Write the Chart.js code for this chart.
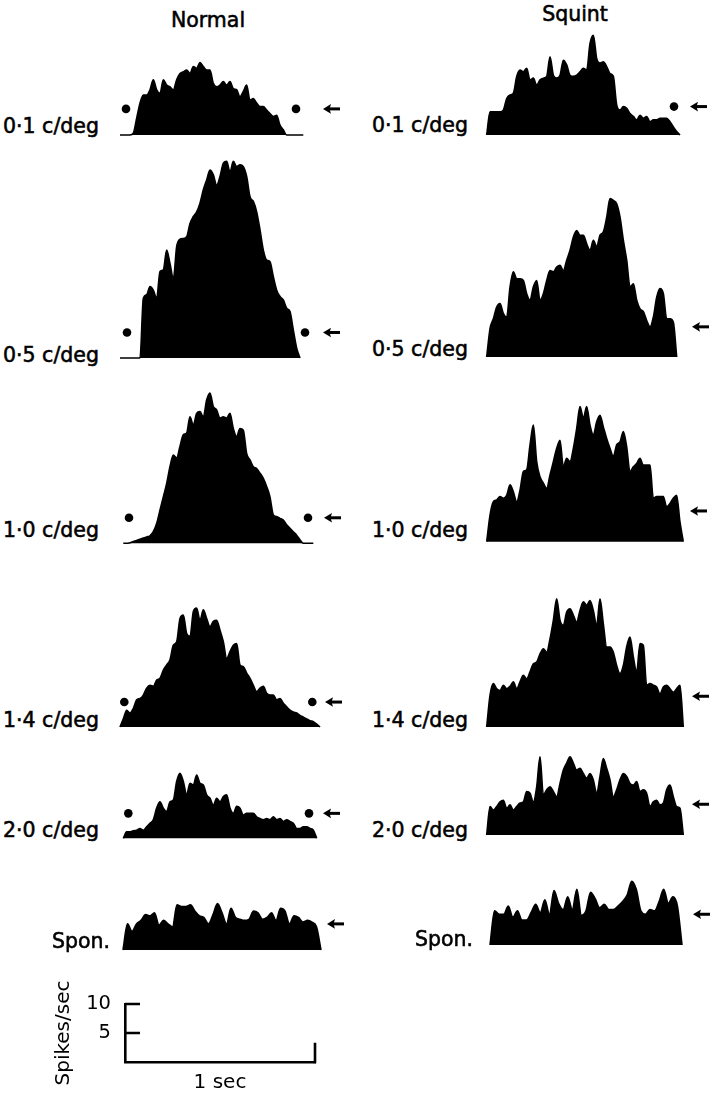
<!DOCTYPE html>
<html><head><meta charset="utf-8">
<script src="https://cdn.jsdelivr.net/npm/chart.js@4.4.1/dist/chart.umd.min.js"></script>
<style>
html,body{margin:0;padding:0;background:#fff;}
#page{position:relative;width:711px;height:1093px;overflow:hidden;font-family:"DejaVu Sans",sans-serif;color:#000;}
.t{position:absolute;white-space:nowrap;font-size:20.5px;line-height:20px;-webkit-text-stroke:0.55px #000;}
canvas{position:absolute;}
</style></head>
<body><div id="page"></div>
<script>
// ---------- data (spikes/sec, evenly spaced over the 1 s sweep) ----------
const columns = ['Normal', 'Squint'];
const conditions = ['0·1 c/deg', '0·5 c/deg', '1·0 c/deg', '1·4 c/deg', '2·0 c/deg', 'Spon.'];

const normal01 = [0,0,0,0,0.3,2.9,5.5,6.9,6.9,7.8,9.5,7.8,7.2,9.5,8.6,8.3,7.8,9.5,10.6,10.9,11.2,10.6,11.8,11.5,12.5,11.8,11.2,11.2,8.9,8.3,8.6,9.2,8.6,9.2,8.0,7.8,6.6,7.5,8.6,6.0,6.3,5.5,4.9,4.9,4.3,3.7,3.2,3.4,1.7,0.9,0,0,0,0,0,0];
const normal05 = [0,0,0,0,0,0,0,10.3,10.9,12.3,11.7,10.3,14.9,15.2,18.6,16.3,13.7,19.2,20.5,20.6,20.9,23.2,24.4,25.2,26.7,29.0,30.7,32.4,31.6,29.8,31.3,33.6,33.9,32.1,33.9,33.0,33.3,33.0,31.3,27.8,27.0,25.2,22.1,18.6,16.9,16.6,14.0,11.7,10.6,10.0,8.6,8.0,4.8,1.7,0];
const normal10 = [0,0,0.1,0.3,0.5,0.7,0.9,1.1,1.3,2.0,3.4,5.7,8.0,10.3,13.2,15.2,14.7,16.7,18.7,19.0,21.8,20.4,22.4,22.7,21.8,24.7,25.9,23.6,23.0,21.6,21.8,21.6,22.4,19.8,18.4,19.8,19.5,15.5,14.4,13.2,12.9,12.1,11.2,9.8,8.0,4.9,4.6,4.3,4.0,3.2,2.6,2.0,1.4,0.6,0,0,0,0];
const normal14 = [0,1.4,2.9,2.4,3.2,4.7,4.9,5.5,6.7,7.2,7.0,8.1,8.4,9.8,10.7,11.6,14.1,14.7,18.7,19.3,16.1,15.6,19.9,20.5,18.4,20.2,18.7,17.3,18.2,18.4,16.7,14.7,11.8,13.0,14.1,14.4,10.7,10.4,9.3,8.4,7.2,6.1,6.7,7.0,5.8,5.5,5.5,4.7,4.9,4.1,3.5,2.9,2.6,2.4,2.0,1.7,1.4,1.1,0.9,0.5,0];
const normal20 = [0,1.1,1.1,1.3,1.4,1.7,1.4,2.0,2.6,3.2,5.2,6.3,5.2,4.6,6.3,6.6,9.8,11.2,9.8,7.5,9.5,9.2,10.9,9.5,9.2,7.5,6.9,5.7,6.9,6.3,7.2,7.5,5.2,4.3,5.5,5.2,4.0,4.3,4.3,4.3,3.7,3.4,3.2,3.4,3.2,3.7,3.2,3.4,2.9,3.2,2.9,2.6,1.7,1.7,2.0,2.0,1.7,1.4,0];
const normalSpon = [0,4.5,3.2,4.5,5.1,6.1,5.9,6.4,4.3,5.1,4.5,4.0,7.8,7.5,7.5,7.8,6.7,5.9,5.6,4.5,6.1,8.0,6.4,4.5,7.2,5.6,5.3,5.1,5.3,6.7,6.4,5.3,5.6,6.4,5.1,7.2,6.7,4.5,5.9,5.6,4.8,5.1,4.8,4.0,0];

const squint01 = [0,4.0,4.0,4.0,4.0,4.3,6.3,6.9,7.2,10.1,11.2,10.9,11.5,9.5,9.8,8.6,9.5,9.8,10.1,13.5,10.3,9.8,10.3,12.9,12.1,10.3,10.1,10.3,10.9,11.5,11.2,15.8,17.2,13.2,12.4,12.6,11.8,10.6,10.1,5.2,4.3,4.9,4.6,3.7,3.2,2.6,3.4,2.9,3.2,2.3,2.6,2.6,2.9,2.9,2.9,2.3,1.4,0.6,0];
const squint05 = [0,4.9,6.6,8.6,9.2,7.5,6.9,12.1,14.7,13.5,13.5,13.2,10.9,9.8,12.1,13.2,9.8,10.9,13.2,14.9,14.7,15.5,15.8,14.9,16.7,18.4,20.7,21.8,21.0,21.0,19.5,18.4,20.1,19.0,21.0,21.6,24.1,27.3,27.0,26.4,24.1,20.1,16.7,12.1,12.6,9.8,8.3,7.8,6.3,5.2,6.9,10.3,11.8,10.9,6.6,6.6,6.0,0];
const squint10 = [0,4.6,6.9,7.2,7.8,7.5,8.0,9.8,8.6,6.9,8.9,12.1,12.4,16.7,20.1,13.8,11.2,10.1,9.2,11.5,13.8,16.1,17.5,12.9,14.4,13.8,16.1,19.5,23.3,21.3,23.3,20.1,18.4,20.7,21.8,19.8,17.8,16.1,14.7,16.7,17.2,19.0,16.4,12.1,12.9,13.5,14.4,13.2,13.2,13.2,7.5,7.8,7.8,7.8,6.0,6.6,7.5,8.0,3.4,0];
const squint14 = [0,5.5,7.5,6.6,6.3,7.2,6.6,7.0,7.8,6.6,7.8,8.9,8.3,9.5,10.9,11.2,12.6,13.5,12.9,15.2,18.4,22.1,18.4,17.5,19.8,20.4,19.3,18.1,20.1,21.6,21.0,21.8,20.1,17.5,22.1,17.8,13.8,13.8,12.9,10.6,9.2,10.6,13.8,15.5,12.1,9.5,14.4,14.1,7.2,7.5,7.2,6.9,5.7,6.9,7.2,6.6,6.0,6.6,7.2,0];
const squint20 = [0,4.9,4.3,4.9,5.7,6.0,4.6,5.2,4.3,4.9,5.5,5.7,7.5,7.2,5.7,8.3,13.5,6.9,7.8,8.3,7.5,6.6,8.9,11.2,12.4,13.5,12.4,11.2,11.5,10.6,9.8,10.6,9.5,7.2,10.1,13.2,11.5,9.5,6.6,7.8,9.5,10.6,10.1,8.9,8.6,9.2,7.5,7.8,7.2,4.9,5.7,6.0,5.2,5.5,7.8,8.6,6.6,4.9,4.6,0];
const squintSpon = [0,5.9,5.3,5.3,6.7,4.8,5.9,4.3,4.3,5.6,7.0,5.6,7.8,5.3,9.4,7.2,6.1,8.3,6.1,9.6,5.1,5.9,9.1,8.0,6.4,7.0,6.1,6.1,6.7,7.5,8.6,11.0,9.6,5.9,5.3,6.1,5.9,7.5,9.6,7.2,8.3,6.7,0];

// spontaneous level marked by dots / arrows (spikes/sec)
const normalLevel = [4.5, 4.4, 4.4, 4.3, 4.3, 4.5];
const squintLevel = [4.9, 5.2, 5.3, 5.3, 5.3, 5.3];

// calibration bar
const calibTicks = [5, 10];
const calibMax = 10;
const calibSeconds = 1;
const calibEndTick = 3.3;

const normalSeries = [normal01, normal05, normal10, normal14, normal20, normalSpon];
const squintSeries = [squint01, squint05, squint10, squint14, squint20, squintSpon];

// ---------- layout (page pixels) ----------
const PX = 5.8; // pixels per spike/sec
const layoutN = [
  {l:120, r:303.3, b:135, dots:[126,296], arrow:323, lx:3, ly:133},
  {l:120, r:300, b:358, dots:[127,305], arrow:323, lx:3, ly:362},
  {l:123.3, r:313.3, b:543.3, dots:[129,308], arrow:324, lx:3, ly:537},
  {l:120, r:320, b:727, dots:[124.3,312.3], arrow:325, lx:3, ly:727},
  {l:123.3, r:316.7, b:838.3, dots:[128.3,309], arrow:323, lx:3, ly:837},
  {l:123, r:321, b:950, dots:[], arrow:327, lx:52, ly:948}
];
const layoutS = [
  {l:486.7, r:680, b:135, dots:[674], arrow:690, lx:372, ly:132},
  {l:486.7, r:676.7, b:357, dots:[], arrow:692, lx:372, ly:356},
  {l:486.7, r:683.3, b:541.7, dots:[], arrow:690, lx:372, ly:537},
  {l:486.7, r:683.3, b:727, dots:[], arrow:692, lx:372, ly:727},
  {l:486.7, r:683.3, b:835, dots:[], arrow:692, lx:372, ly:837},
  {l:490, r:682, b:945, dots:[], arrow:693, lx:415, ly:946}
];
const colSpan = [[100, 352], [470, 711]];
const titlePos = [{cx:208, by:26.7}, {cx:575, by:21}];

const page = document.getElementById('page');
function addText(txt, x, baseline, align) {
  const d = document.createElement('div');
  d.className = 't';
  d.textContent = txt;
  d.style.top = (baseline - 16.8) + 'px';
  if (align === 'center') { d.style.left = x + 'px'; d.style.transform = 'translateX(-50%)'; }
  else d.style.left = x + 'px';
  page.appendChild(d);
}

const arrowPlugin = {
  id: 'levelArrow',
  afterDatasetsDraw(chart, args, o) {
    if (o.at == null) return;
    const {ctx, scales: {x, y}} = chart;
    const py = y.getPixelForValue(o.level);
    const px = x.getPixelForValue(o.at);
    ctx.save();
    ctx.fillStyle = '#000';
    ctx.beginPath();
    ctx.moveTo(px, py);
    ctx.lineTo(px + 8, py - 4.8);
    ctx.lineTo(px + 6.5, py);
    ctx.lineTo(px + 8, py + 4.8);
    ctx.closePath();
    ctx.fill();
    ctx.fillRect(px + 5, py - 1.5, 12, 3);
    ctx.restore();
  }
};

function makePanel(values, level, L, col) {
  const [cx0, cx1] = colSpan[col];
  const w = L.r - L.l;
  const maxV = Math.max(...values, level);
  const top = Math.floor(L.b - (maxV + 3) * PX);
  const bottom = Math.ceil(L.b + 4);
  const cv = document.createElement('canvas');
  cv.width = cx1 - cx0; cv.height = bottom - top;
  cv.style.left = cx0 + 'px'; cv.style.top = top + 'px';
  page.appendChild(cv);
  const toFrac = p => (p - L.l) / w;
  new Chart(cv.getContext('2d'), {
    type: 'line',
    data: {
      datasets: [
        {
          data: values.map((v, i) => ({x: i / (values.length - 1), y: v})),
          fill: 'origin', backgroundColor: '#000', borderColor: '#000', borderWidth: 1.6,
          pointRadius: 0, cubicInterpolationMode: 'monotone'
        },
        {
          type: 'scatter',
          data: L.dots.map(p => ({x: toFrac(p), y: level})),
          pointRadius: 4.3, backgroundColor: '#000', borderWidth: 0
        }
      ]
    },
    options: {
      animation: false, responsive: false, maintainAspectRatio: false, events: [],
      layout: {padding: 0, autoPadding: false},
      plugins: {legend: {display: false}, tooltip: {enabled: false},
        levelArrow: {level: level, at: toFrac(L.arrow)}},
      scales: {
        x: {type: 'linear', display: false, min: toFrac(cx0), max: toFrac(cx1)},
        y: {type: 'linear', display: false, min: -(bottom - L.b) / PX, max: (L.b - top) / PX}
      }
    },
    plugins: [arrowPlugin]
  });
}

columns.forEach((c, ci) => addText(c, titlePos[ci].cx, titlePos[ci].by, 'center'));
normalSeries.forEach((s, i) => { makePanel(s, normalLevel[i], layoutN[i], 0); addText(conditions[i], layoutN[i].lx, layoutN[i].ly); });
squintSeries.forEach((s, i) => { makePanel(s, squintLevel[i], layoutS[i], 1); addText(conditions[i], layoutS[i].lx, layoutS[i].ly); });

// ---------- calibration bar ----------
(function () {
  const cTop = 970, cLeft = 0, cW = 340, cH = 123;
  const axisX = 125, axisTop = 1004, axisBottom = 1062, axisRight = 315;
  const cv = document.createElement('canvas');
  cv.width = cW; cv.height = cH;
  cv.style.left = cLeft + 'px'; cv.style.top = cTop + 'px';
  page.appendChild(cv);
  const font = {family: 'DejaVu Sans', size: 20, lineHeight: 1};
  const calibPlugin = {
    id: 'calib',
    afterDraw(chart) {
      const {ctx, scales: {x, y}} = chart;
      ctx.save();
      ctx.strokeStyle = '#000'; ctx.lineWidth = 2.6; ctx.lineCap = 'butt';
      ctx.beginPath();
      calibTicks.forEach(t => { const py = y.getPixelForValue(t); ctx.moveTo(x.left, py); ctx.lineTo(x.left + 15, py); });
      const rx = x.getPixelForValue(calibSeconds);
      ctx.moveTo(rx, y.getPixelForValue(0) + 1.3); ctx.lineTo(rx, y.getPixelForValue(calibEndTick));
      ctx.stroke();
      ctx.restore();
    }
  };
  new Chart(cv.getContext('2d'), {
    type: 'line',
    data: {datasets: []},
    options: {
      animation: false, responsive: false, maintainAspectRatio: false, events: [],
      layout: {padding: {top: axisTop - cTop, right: cLeft + cW - axisRight, left: 0, bottom: 0}, autoPadding: false},
      plugins: {legend: {display: false}, tooltip: {enabled: false}},
      scales: {
        x: {
          type: 'linear', min: 0, max: calibSeconds, position: 'bottom',
          grid: {display: false, drawTicks: false},
          border: {display: true, color: '#000', width: 2.6},
          ticks: {display: false},
          title: {display: true, text: '1 sec', color: '#000', font: font, padding: 0},
          afterFit(s) { s.height = cTop + cH - axisBottom; s.paddingLeft = 0; s.paddingRight = 0; }
        },
        y: {
          type: 'linear', min: 0, max: calibMax, position: 'left',
          grid: {display: false, drawTicks: false},
          border: {display: true, color: '#000', width: 2.6},
          ticks: {stepSize: 5, padding: 14, color: '#000', font: {family: 'DejaVu Sans', size: 19.5},
            callback: v => calibTicks.includes(v) ? String(v) : ''},
          title: {display: true, text: 'Spikes/sec', color: '#000', font: font, padding: {top: 54, bottom: 0}},
          afterFit(s) { s.width = axisX - cLeft; s.paddingTop = 0; s.paddingBottom = 0; }
        }
      }
    },
    plugins: [calibPlugin]
  });
})();
</script>
</body></html>
